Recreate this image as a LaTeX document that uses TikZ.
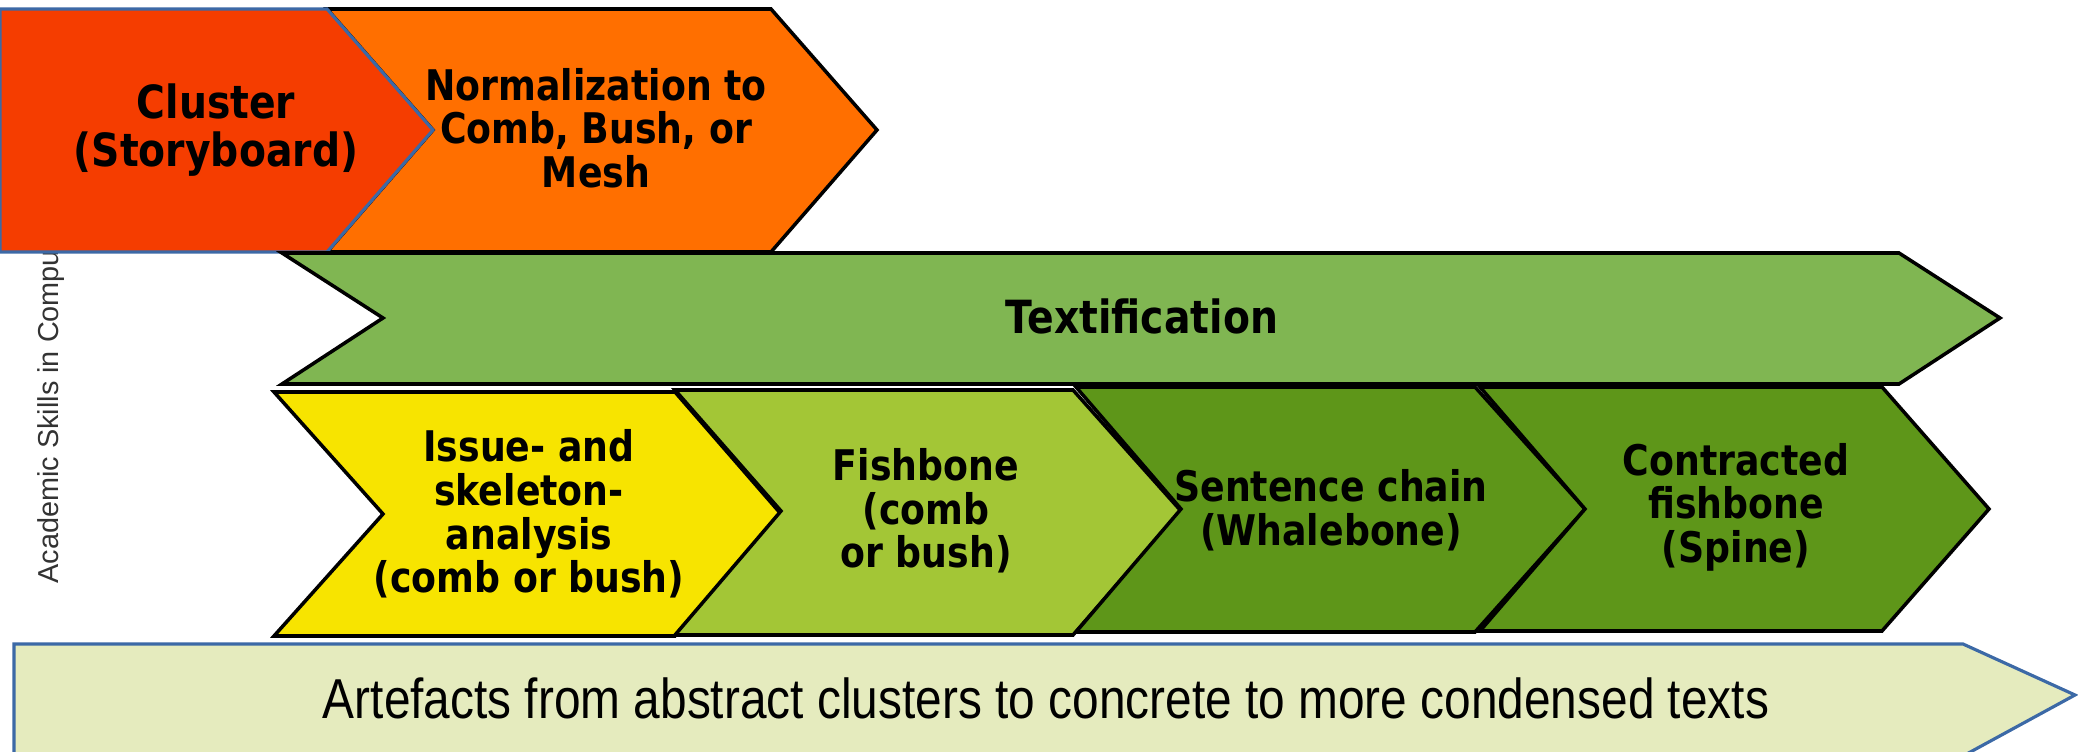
\documentclass[tikz,border=0pt]{standalone}
\usepackage{fontspec}
\setmainfont{DejaVu Sans}
\newfontfamily\chevfont[FakeStretch=0.86]{DejaVu Sans}
\newfontfamily\bandfont[FakeStretch=0.85]{Liberation Sans}
\newfontfamily\sidefont{Liberation Sans}
\definecolor{clusterred}{HTML}{F53D00}
\definecolor{normorange}{HTML}{FF6F00}
\definecolor{textifgreen}{HTML}{80B652}
\definecolor{issueyellow}{HTML}{F7E400}
\definecolor{fishgreen}{HTML}{A3C636}
\definecolor{darkgreen}{HTML}{5E9619}
\definecolor{bandfill}{HTML}{E5EBBE}
\definecolor{bandblue}{HTML}{3C69A6}
\begin{document}
\begin{tikzpicture}[x=0.01cm,y=-0.01cm,
    chev/.style={draw=black,line width=1pt,line join=miter},
    bluechev/.style={draw=bandblue,line width=0.9pt,line join=miter},
    lbl/.style={font=\chevfont\bfseries\fontsize{12}{12.4}\selectfont,align=center,inner sep=0pt}]
  \useasboundingbox (0,0) rectangle (2078,752);
  \node[rotate=90,anchor=base west,inner sep=0pt,text=black!80,font=\sidefont\fontsize{8.2}{10}\selectfont] (side) at (58,584) {Academic Skills in Computer Science};
  \draw[chev,fill=normorange] (327,9) -- (771,9) -- (877,130) -- (771,252) -- (327,252) -- (433,130) -- cycle;
  \draw[bluechev,fill=clusterred] (0,9) -- (327,9) -- (433,130) -- (327,252) -- (0,252) -- cycle;
  \draw[chev,fill=textifgreen] (282,253) -- (1899,253) -- (2000,318) -- (1899,384) -- (282,384) -- (383,318) -- cycle;
  \draw[chev,fill=issueyellow] (274,392) -- (675,392) -- (781,514) -- (675,636) -- (274,636) -- (383,514) -- cycle;
  \draw[chev,fill=fishgreen] (675,390) -- (1073,390) -- (1181,511) -- (1073,635) -- (675,635) -- (781,511) -- cycle;
  \draw[chev,fill=darkgreen] (1076,387) -- (1475,387) -- (1585,509) -- (1475,632) -- (1076,632) -- (1181,509) -- cycle;
  \draw[chev,fill=darkgreen] (1480,387) -- (1882,387) -- (1989,509) -- (1882,631) -- (1480,631) -- (1585,509) -- cycle;
  \draw[bluechev,fill=bandfill] (14,644) -- (1963,644) -- (2075,695) -- (1963,756) -- (14,756) -- cycle;
  \node[lbl,font=\chevfont\bfseries\fontsize{13}{13.5}\selectfont] (cluster) at (216,130) {Cluster\\(Storyboard)};
  \node[lbl] (norm) at (596,128) {Normalization to\\Comb, Bush, or\\Mesh};
  \node[lbl,font=\chevfont\bfseries\fontsize{13}{13.5}\selectfont] (textif) at (1142,316) {Textification};
  \node[lbl] (issue) at (529,514) {Issue- and\\skeleton-\\analysis\\(comb or bush)};
  \node[lbl] (fish) at (926,511) {Fishbone\\(comb\\or bush)};
  \node[lbl] (chain) at (1331,510) {Sentence chain\\(Whalebone)};
  \node[lbl] (spine) at (1736,507) {Contracted\\fishbone\\(Spine)};
  \node[inner sep=0pt,font=\bandfont\fontsize{16}{18}\selectfont] (artefacts) at (1046,698) {Artefacts from abstract clusters to concrete to more condensed texts};
\end{tikzpicture}
\end{document}
